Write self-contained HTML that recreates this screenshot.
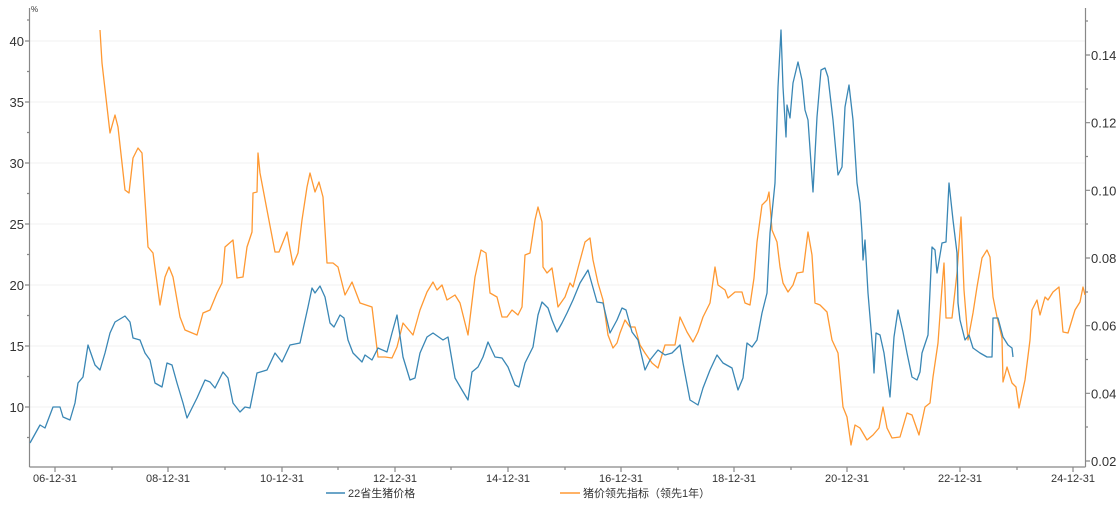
<!DOCTYPE html>
<html><head><meta charset="utf-8"><style>
body{margin:0;background:#fff;}
svg text{font-family:"Liberation Sans","Noto Sans CJK SC",sans-serif;fill:#333;}
</style></head><body>
<svg width="1119" height="517" viewBox="0 0 1119 517" xmlns="http://www.w3.org/2000/svg">
<g stroke="#f2f2f2" stroke-width="1">
<line x1="30" x2="1085" y1="41" y2="41"/><line x1="30" x2="1085" y1="102" y2="102"/><line x1="30" x2="1085" y1="163" y2="163"/><line x1="30" x2="1085" y1="224" y2="224"/><line x1="30" x2="1085" y1="285" y2="285"/><line x1="30" x2="1085" y1="346" y2="346"/><line x1="30" x2="1085" y1="407" y2="407"/>
</g>
<g stroke="#888" stroke-width="1.2" fill="none">
<line x1="29.5" y1="8" x2="29.5" y2="467"/>
<line x1="1085.5" y1="8" x2="1085.5" y2="467"/>
<line x1="29.5" y1="467" x2="1085.5" y2="467"/>
<path d="M25 41h5M25 102h5M25 163h5M25 224h5M25 285h5M25 346h5M25 407h5M27 71.5h3M27 132.5h3M27 193.5h3M27 254.5h3M27 315.5h3M27 376.5h3M27 437.5h3M27 20h3"/>
<path d="M1085 55h5M1085 122.7h5M1085 190.3h5M1085 258h5M1085 325.7h5M1085 393.3h5M1085 461h5M1085 21h3M1085 89h3M1085 156.5h3M1085 224h3M1085 292h3M1085 359.5h3M1085 427h3"/>
<path d="M55 467v5M168 467v5M282 467v5M395 467v5M508 467v5M621 467v5M734 467v5M847 467v5M960 467v5M1073 467v5M112 467v3M225 467v3M338 467v3M451 467v3M565 467v3M678 467v3M791 467v3M904 467v3M1017 467v3"/>
</g>
<text x="31" y="12" font-size="8">%</text>
<g font-size="13" text-anchor="end">
<text x="24" y="46">40</text><text x="24" y="107">35</text><text x="24" y="168">30</text><text x="24" y="229">25</text><text x="24" y="290">20</text><text x="24" y="351">15</text><text x="24" y="412">10</text>
</g>
<g font-size="13">
<text x="1091" y="60">0.14</text><text x="1091" y="127.7">0.12</text><text x="1091" y="195.3">0.10</text><text x="1091" y="263">0.08</text><text x="1091" y="330.7">0.06</text><text x="1091" y="398.3">0.04</text><text x="1091" y="466">0.02</text>
</g>
<g font-size="11" text-anchor="middle">
<text x="55" y="482">06-12-31</text><text x="168" y="482">08-12-31</text><text x="282" y="482">10-12-31</text><text x="395" y="482">12-12-31</text><text x="508" y="482">14-12-31</text><text x="621" y="482">16-12-31</text><text x="734" y="482">18-12-31</text><text x="847" y="482">20-12-31</text><text x="960" y="482">22-12-31</text><text x="1073" y="482">24-12-31</text>
</g>
<polyline fill="none" stroke="#ff9933" stroke-width="1.3" stroke-linejoin="round" points="100,30 102,63 110,133 115,115 118,127 125,190 129,193 133,158 138,148 142,153 148,247 153,253 160,305 165,277 169,267 173,277 180,317 185,330 197,335 203,313 210,310 217,293 222,283 225,247 233,240 237,278 243,277 247,247 252,232 253,193 257,192 258,153 260,173 267,210 275,252 279,252 287,232 293,265 298,253 302,220 307,187 310,173 315,192 319,182 323,197 327,263 333,263 338,267 345,295 352,282 360,303 372,307 378,357 385,357 392,358 397,347 403,323 413,335 420,310 427,292 433,282 437,290 442,285 447,300 455,295 460,303 468,335 475,277 481,250 486,253 490,293 497,297 502,317 507,317 512,310 518,315 522,307 525,255 530,253 535,220 538,207 542,222 543,267 547,273 552,268 558,307 565,297 570,283 573,287 578,268 585,242 590,238 593,260 598,283 603,300 608,335 613,348 617,343 620,333 625,320 630,327 635,327 640,345 645,353 652,363 658,368 665,345 675,345 680,317 687,332 693,342 698,332 703,317 710,303 715,267 718,285 725,290 728,298 735,292 742,292 745,303 750,305 754,278 757,242 762,205 767,200 769,192 772,230 777,242 780,267 783,283 788,292 793,285 797,273 803,272 808,232 812,255 815,303 820,305 827,312 832,340 838,353 843,407 847,417 851,445 855,425 860,428 867,440 873,435 879,428 883,407 887,428 892,438 900,437 907,413 912,415 919,435 925,407 930,403 933,377 938,343 942,287 944,263 946,318 952,318 957,273 961,217 964,290 968,340 973,313 977,287 982,258 987,250 990,257 993,297 997,317 1002,338 1003,382 1007,367 1012,383 1016,387 1019,408 1025,380 1030,340 1032,310 1037,300 1040,315 1045,297 1048,300 1053,292 1059,287 1063,332 1068,333 1075,310 1080,302 1083,287 1085,295"/>
<polyline fill="none" stroke="#3a87b5" stroke-width="1.3" stroke-linejoin="round" points="30,443 40,425 45,428 53,407 60,407 63,417 70,420 75,403 78,383 83,377 88,345 95,365 100,370 105,353 110,333 115,322 125,316 130,322 133,338 140,340 145,353 150,360 155,383 162,387 167,363 172,365 177,383 183,403 187,418 190,412 197,398 205,380 210,382 215,388 223,372 228,378 233,403 240,412 245,407 250,408 257,373 267,370 275,353 282,362 290,345 300,343 308,307 312,288 315,293 320,286 325,297 330,323 334,327 340,315 344,318 348,340 353,353 362,362 365,355 372,360 378,348 387,352 392,333 397,315 403,357 410,380 415,378 420,353 427,337 433,333 443,340 448,337 455,378 462,390 468,400 472,372 478,367 483,357 488,342 495,357 502,358 508,367 515,385 519,387 525,363 533,347 538,315 542,302 548,308 552,320 557,332 562,323 567,313 573,300 580,283 588,270 597,302 603,303 610,333 617,320 622,308 626,310 632,332 638,340 645,370 650,360 658,350 665,355 672,353 680,345 683,363 690,400 698,405 703,388 710,370 717,355 723,363 732,368 738,390 743,378 747,343 752,347 757,340 762,313 767,293 770,233 775,183 778,87 781,30 783,87 786,137 787,105 790,118 793,83 798,62 802,80 805,110 808,120 813,192 817,117 821,70 825,68 828,77 833,120 838,175 842,167 845,107 849,85 853,120 857,183 860,203 862,233 863,260 865,240 868,293 873,353 874,373 876,333 880,335 884,353 890,397 894,337 898,310 903,332 907,353 912,377 917,380 920,372 922,353 928,335 932,247 935,250 937,273 942,243 946,242 949,183 953,220 957,253 958,303 960,320 965,340 969,335 973,348 980,353 987,357 992,357 993,318 998,318 1003,337 1008,345 1012,348 1013,357"/>
<line x1="326" y1="493" x2="345" y2="493" stroke="#3a87b5" stroke-width="1.5"/>
<text x="348" y="497" font-size="11">22省生猪价格</text>
<line x1="560" y1="493" x2="580" y2="493" stroke="#ff9933" stroke-width="1.5"/>
<text x="583" y="497" font-size="11">猪价领先指标（领先1年）</text>
</svg>
</body></html>
